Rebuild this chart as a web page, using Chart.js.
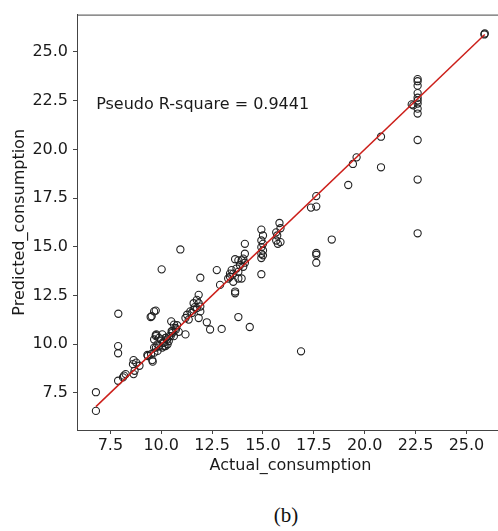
<!DOCTYPE html>
<html>
<head>
<meta charset="utf-8">
<script src="https://cdn.jsdelivr.net/npm/chart.js@4"></script>
<style>
html,body{margin:0;padding:0;background:#fff;overflow:hidden;width:498px;height:531px;}
#wrap{position:absolute;left:0;top:0;width:509px;height:480px;}
#cap{position:absolute;top:503px;left:286px;transform:translateX(-50%);font-family:"Liberation Serif",serif;font-size:21px;color:#111;white-space:nowrap;}
</style>
</head>
<body>
<div id="wrap"><canvas id="c" width="509" height="480"></canvas></div>
<div id="cap">(b)</div>
<script>
const actual = [
  6.79, 6.79,
  7.88, 7.88, 7.88, 7.89,
  8.12, 8.17, 8.25,
  8.61, 8.64, 8.64, 8.69, 8.77, 8.93,
  9.32, 9.34, 9.50, 9.56, 9.58, 9.66, 9.74, 9.82, 9.90,
  9.48, 9.53, 9.65, 9.73,
  9.65, 9.73, 9.76, 9.81, 9.89, 9.99, 10.05, 10.05, 10.07, 10.13, 10.15, 10.21, 10.21, 10.23, 10.29, 10.31, 10.37, 10.39, 10.46, 10.49, 10.51, 10.54, 10.55, 10.62, 10.63, 10.70, 10.72, 10.78, 10.86,
  9.74, 9.65,
  10.94, 10.02, 11.19,
  11.19, 11.27, 11.35, 11.43, 11.59, 11.59, 11.75, 11.75, 11.84, 11.84, 11.84, 11.92, 11.92, 11.50, 11.65,
  11.92, 12.24, 12.40, 12.97, 12.73, 12.89,
  13.29, 13.38, 13.38, 13.46, 13.54, 13.54, 13.63, 13.63, 13.63, 13.70, 13.79, 13.79, 13.79, 13.87, 13.95, 13.95, 14.03, 14.03, 14.11, 14.11, 14.11, 13.79, 14.35,
  14.92, 15.00, 14.92, 15.00, 14.92, 15.00, 14.92, 15.00, 14.92, 14.92,
  15.65, 15.70, 15.65, 15.86, 15.73, 15.81, 15.86,
  16.87,
  17.36, 17.62, 17.62, 17.62, 17.62, 17.62,
  18.38, 19.19, 19.42, 19.60,
  20.80, 20.80,
  22.31, 22.39, 22.60, 22.60, 22.60, 22.60, 22.60, 22.60, 22.60, 22.60, 22.60, 22.60, 22.60, 22.60,
  25.90, 25.88
];
const predicted = [
  6.57, 7.53,
  8.12, 9.90, 9.53, 11.56,
  8.29, 8.38, 8.46,
  8.97, 8.46, 9.18, 8.63, 9.05, 8.89,
  9.44, 9.39, 9.48, 9.18, 9.10, 9.56, 9.82, 9.65, 9.90,
  11.39, 11.43, 11.68, 11.72,
  10.24, 10.46, 10.50, 9.99, 10.32, 10.24, 10.50, 9.82, 10.07, 10.07, 9.90, 9.90, 10.32, 10.32, 10.24, 9.99, 10.16, 10.41, 10.41, 11.17, 10.66, 10.66, 10.58, 10.41, 11.00, 10.83, 10.75, 10.97, 10.63,
  10.41, 9.82,
  14.86, 13.84, 10.50,
  11.34, 11.51, 11.26, 11.68, 11.77, 12.10, 11.85, 12.27, 12.53, 12.10, 11.34, 11.93, 11.68, 11.60, 11.90,
  13.41, 11.12, 10.75, 10.78, 13.80, 13.04,
  13.37, 13.46, 13.62, 13.80, 13.62, 13.20, 14.36, 12.70, 12.61, 13.88, 13.71, 13.37, 14.30, 14.05, 14.30, 13.37, 13.97, 14.39, 15.15, 14.64, 14.18, 11.39, 10.88,
  15.88, 15.58, 15.32, 15.15, 14.98, 14.81, 14.64, 14.56, 14.42, 13.59,
  15.74, 15.58, 15.32, 15.24, 15.15, 16.22, 15.95,
  9.63,
  17.01, 17.06, 17.60, 14.68, 14.59, 14.18,
  15.37, 18.17, 19.25, 19.59,
  20.65, 19.08,
  22.31, 22.26, 23.61, 23.50, 23.27, 22.89, 22.65, 22.51, 22.35, 22.09, 21.84, 20.48, 18.45, 15.69,
  25.95, 25.90
];
const xTicks = [7.5, 10.0, 12.5, 15.0, 17.5, 20.0, 22.5, 25.0];
const yTicks = [7.5, 10.0, 12.5, 15.0, 17.5, 20.0, 22.5, 25.0];
const annotationText = "Pseudo R-square = 0.9441";
const xTitle = "Actual_consumption";
const yTitle = "Predicted_consumption";

const points = actual.map((a, i) => ({x: a, y: predicted[i]}));
const lo = Math.min(...actual), hi = Math.max(...actual);
const fitLine = [{x: lo, y: lo}, {x: hi, y: hi}];

const FONT = "'DejaVu Sans', sans-serif";
const TXT = '#1a1a1a';
const AX = '#444';

const extras = {
  id: 'extras',
  afterDraw(chart) {
    const {ctx, chartArea, scales} = chart;
    ctx.save();
    ctx.strokeStyle = AX;
    ctx.lineWidth = 1;
    ctx.beginPath();
    ctx.moveTo(chartArea.left, chartArea.top + 0.5);
    ctx.lineTo(chartArea.right, chartArea.top + 0.5);
    ctx.stroke();
    ctx.fillStyle = TXT;
    ctx.font = "16px " + FONT;
    ctx.textBaseline = 'middle';
    ctx.textAlign = 'left';
    ctx.fillText(annotationText, scales.x.getPixelForValue(6.8), scales.y.getPixelForValue(22.3));
    ctx.restore();
  }
};

new Chart(document.getElementById('c'), {
  type: 'scatter',
  data: {
    datasets: [
      {
        type: 'line',
        data: fitLine,
        borderColor: '#cc1f1a',
        borderWidth: 1.5,
        pointRadius: 0,
        fill: false,
        order: 0
      },
      {
        data: points,
        pointStyle: 'circle',
        pointRadius: 3.6,
        pointBorderWidth: 1.1,
        borderColor: '#222',
        backgroundColor: 'rgba(0,0,0,0)',
        order: 1
      }
    ]
  },
  options: {
    responsive: false,
    animation: false,
    events: [],
    layout: {padding: {top: 10, right: 1, left: 0, bottom: 0}},
    plugins: {legend: {display: false}, tooltip: {enabled: false}},
    scales: {
      x: {
        type: 'linear',
        min: 5.86, max: 26.84,
        afterBuildTicks: s => { s.ticks = xTicks.map(v => ({value: v})); },
        afterFit: s => { s.height = 50; },
        ticks: {
          callback: v => Number(v).toFixed(1),
          color: TXT, font: {family: FONT, size: 16}, padding: 2, maxRotation: 0, autoSkip: false
        },
        grid: {display: true, drawOnChartArea: false, drawTicks: true, tickLength: 4, color: AX, lineWidth: 1},
        border: {display: true, color: AX, width: 1},
        title: {display: true, text: xTitle, color: TXT, font: {family: FONT, size: 16}, padding: {top: 0, bottom: 5}}
      },
      y: {
        type: 'linear',
        min: 5.59, max: 26.92,
        afterBuildTicks: s => { s.ticks = yTicks.map(v => ({value: v})); },
        afterFit: s => { s.width = 77; },
        ticks: {
          callback: v => Number(v).toFixed(1),
          color: TXT, font: {family: FONT, size: 16}, padding: 5, autoSkip: false
        },
        grid: {display: true, drawOnChartArea: false, drawTicks: true, tickLength: 4, color: AX, lineWidth: 1},
        border: {display: true, color: AX, width: 1},
        title: {display: true, text: yTitle, color: TXT, font: {family: FONT, size: 16}, padding: {top: 10, bottom: 0}}
      }
    }
  },
  plugins: [extras]
});
</script>
</body>
</html>
